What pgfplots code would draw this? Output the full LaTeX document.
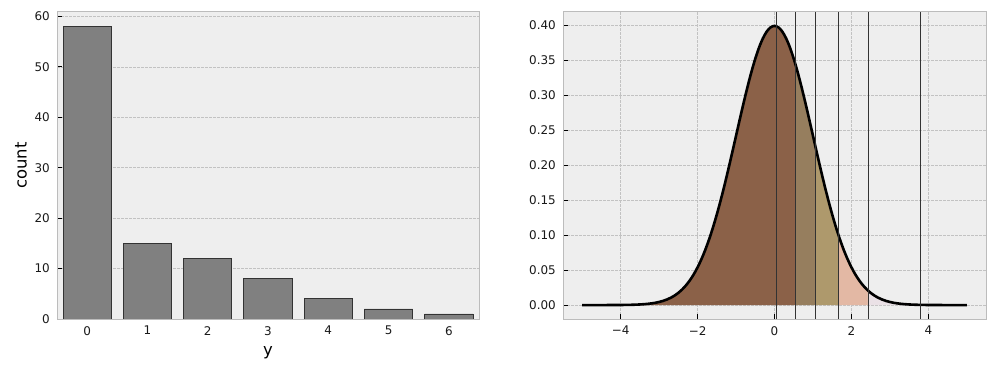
\documentclass[border=0pt]{standalone}
\usepackage{pgfplots}
\pgfplotsset{compat=1.18}
\usepackage{fontspec}
\setmainfont{DejaVu Sans}
\definecolor{bg}{HTML}{EEEEEE}
\definecolor{spine}{HTML}{BCBCBC}
\definecolor{gridc}{HTML}{C2C2C2}
\definecolor{barc}{HTML}{808080}
\definecolor{edgec}{HTML}{333333}
\definecolor{rA}{HTML}{8B6148}
\definecolor{rB}{HTML}{967E5E}
\definecolor{rC}{HTML}{AE996C}
\definecolor{rD}{HTML}{E3B8A4}
\definecolor{rE}{HTML}{EAE1E6}
\pgfplotstableread{
x y
-5.0 0.0000015
-4.5 0.00002
-4.2 0.00006
-4.0 0.00013
-3.9 0.00020
-3.8 0.00029
-3.7 0.00042
-3.6 0.00061
-3.5 0.00087
-3.4 0.00123
-3.3 0.00172
-3.2 0.00238
-3.1 0.00327
-3.0 0.00443
-2.9 0.00595
-2.8 0.00792
-2.7 0.01042
-2.6 0.01358
-2.5 0.01753
-2.4 0.02239
-2.3 0.02833
-2.2 0.03547
-2.1 0.04398
-2.0 0.05399
-1.9 0.06562
-1.8 0.07895
-1.7 0.09405
-1.6 0.11092
-1.5 0.12952
-1.4 0.14973
-1.3 0.17137
-1.2 0.19419
-1.1 0.21785
-1.0 0.24197
-0.9 0.26609
-0.8 0.28969
-0.7 0.31225
-0.6 0.33322
-0.5 0.35207
-0.4 0.36827
-0.3 0.38139
-0.2 0.39104
-0.1 0.39695
0.0 0.39894
0.1 0.39695
0.2 0.39104
0.3 0.38139
0.4 0.36827
0.5 0.35207
0.6 0.33322
0.7 0.31225
0.8 0.28969
0.9 0.26609
1.0 0.24197
1.1 0.21785
1.2 0.19419
1.3 0.17137
1.4 0.14973
1.5 0.12952
1.6 0.11092
1.7 0.09405
1.8 0.07895
1.9 0.06562
2.0 0.05399
2.1 0.04398
2.2 0.03547
2.3 0.02833
2.4 0.02239
2.5 0.01753
2.6 0.01358
2.7 0.01042
2.8 0.00792
2.9 0.00595
3.0 0.00443
3.1 0.00327
3.2 0.00238
3.3 0.00172
3.4 0.00123
3.5 0.00087
3.6 0.00061
3.7 0.00042
3.8 0.00029
3.9 0.00020
4.0 0.00013
4.2 0.00006
4.5 0.00002
5.0 0.0000015
}\pdftable
\begin{document}
\begin{tikzpicture}
\useasboundingbox (0,0) rectangle (996bp,371bp);
\pgfplotsset{
  every axis/.append style={
    scale only axis,
    axis background/.style={fill=bg},
    axis line style={spine, line width=1bp},
    tick align=inside,
    xtick pos=lower, ytick pos=left,
    major tick length=4.5bp,
    every tick/.style={black, line width=0.9bp},
    grid style={gridc, line width=0.6bp, dash pattern=on 2.6bp off 1.4bp},
    tick label style={font=\fontsize{12}{14}\selectfont, text=black!90},
    xticklabel style={inner sep=0pt, yshift=-7bp},
    yticklabel style={inner sep=0pt, xshift=-7bp},
  },
  every axis x label/.style={at={(axis description cs:0.5,-0.111)}, anchor=center, font=\fontsize{16.5}{19}\selectfont},
  every axis y label/.style={at={(axis description cs:-0.0853,0.5)}, rotate=90, anchor=center, font=\fontsize{16.5}{19}\selectfont},
}
\begin{axis}[
  at={(57bp,52bp)}, anchor=south west,
  width=422bp, height=307bp,
  xmin=-0.5, xmax=6.5, ymin=0, ymax=60.9,
  xtick={0,1,2,3,4,5,6},
  xticklabels={0,1,2,3,4,5,6},
  ytick={0,10,20,30,40,50,60},
  yticklabels={0,10,20,30,40,50,60},
  ymajorgrids,
  xlabel={y}, ylabel={count},
]
\addplot[ybar, bar width=0.8, fill=barc, draw=edgec, line width=0.8bp]
  coordinates {(0,58) (1,15) (2,12) (3,8) (4,4) (5,2) (6,1)};
\end{axis}
\begin{axis}[
  at={(563bp,52bp)}, anchor=south west,
  width=423bp, height=307bp,
  xmin=-5.5, xmax=5.5, ymin=-0.0199, ymax=0.4188,
  xtick={-4,-2,0,2,4},
  xticklabels={−4,−2,0,2,4},
  ytick={0,0.05,0.10,0.15,0.20,0.25,0.30,0.35,0.40},
  yticklabels={0.00,0.05,0.10,0.15,0.20,0.25,0.30,0.35,0.40},
  xmajorgrids, ymajorgrids,
]
\addplot[fill=rA, draw=none] coordinates {
(-5,0) (-5.0,0.0000015) (-4.5,0.00002) (-4.0,0.00013) (-3.5,0.00087)
(-3.4,0.00123) (-3.3,0.00172) (-3.2,0.00238) (-3.1,0.00327) (-3.0,0.00443)
(-2.9,0.00595) (-2.8,0.00792) (-2.7,0.01042) (-2.6,0.01358) (-2.5,0.01753)
(-2.4,0.02239) (-2.3,0.02833) (-2.2,0.03547) (-2.1,0.04398) (-2.0,0.05399)
(-1.9,0.06562) (-1.8,0.07895) (-1.7,0.09405) (-1.6,0.11092) (-1.5,0.12952)
(-1.4,0.14973) (-1.3,0.17137) (-1.2,0.19419) (-1.1,0.21785) (-1.0,0.24197)
(-0.9,0.26609) (-0.8,0.28969) (-0.7,0.31225) (-0.6,0.33322) (-0.5,0.35207)
(-0.4,0.36827) (-0.3,0.38139) (-0.2,0.39104) (-0.1,0.39695) (0.0,0.39894)
(0.1,0.39695) (0.2,0.39104) (0.3,0.38139) (0.4,0.36827) (0.5,0.35207)
(0.555,0.3420) (0.555,0)};
\addplot[fill=rB, draw=none] coordinates {
(0.555,0) (0.555,0.3420) (0.6,0.33322) (0.7,0.31225) (0.8,0.28969)
(0.9,0.26609) (1.0,0.24197) (1.068,0.2255) (1.068,0)};
\addplot[fill=rC, draw=none] coordinates {
(1.068,0) (1.068,0.2255) (1.1,0.21785) (1.2,0.19419) (1.3,0.17137)
(1.4,0.14973) (1.5,0.12952) (1.6,0.11092) (1.67,0.0989) (1.67,0)};
\addplot[fill=rD, draw=none] coordinates {
(1.67,0) (1.67,0.0989) (1.7,0.09405) (1.8,0.07895) (1.9,0.06562)
(2.0,0.05399) (2.1,0.04398) (2.2,0.03547) (2.3,0.02833) (2.4,0.02239)
(2.43,0.02083) (2.43,0)};
\addplot[fill=rE, draw=none] coordinates {
(2.43,0) (2.43,0.02083) (2.5,0.01753) (2.6,0.01358) (2.7,0.01042)
(2.8,0.00792) (2.9,0.00595) (3.0,0.00443) (3.2,0.00238) (3.4,0.00123)
(3.6,0.00061) (3.79,0.0003) (3.79,0)};
\addplot[black, line width=2.6bp, smooth] table[x=x,y=y] {\pdftable};
\addplot[edgec, line width=0.8bp] coordinates {(0.047,-0.0199) (0.047,0.4188)};
\addplot[edgec, line width=0.8bp] coordinates {(0.555,-0.0199) (0.555,0.4188)};
\addplot[edgec, line width=0.8bp] coordinates {(1.068,-0.0199) (1.068,0.4188)};
\addplot[edgec, line width=0.8bp] coordinates {(1.67,-0.0199) (1.67,0.4188)};
\addplot[edgec, line width=0.8bp] coordinates {(2.43,-0.0199) (2.43,0.4188)};
\addplot[edgec, line width=0.8bp] coordinates {(3.79,-0.0199) (3.79,0.4188)};
\end{axis}
\end{tikzpicture}
\end{document}
